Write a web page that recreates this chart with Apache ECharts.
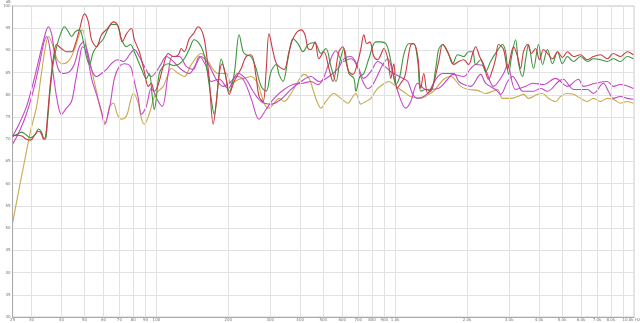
<!DOCTYPE html>
<html>
<head>
<meta charset="utf-8">
<script src="https://cdn.jsdelivr.net/npm/echarts@6/dist/echarts.min.js"></script>
<style>
html,body{margin:0;padding:0;background:#fff;}
#chart{width:640px;height:323px;}
</style>
</head>
<body>
<div id="chart"></div>
<script>
// Frequency grid lines and their labels
const freqTicks = [25,30,40,50,60,70,80,90,100,200,300,400,500,600,700,800,900,1000,2000,3000,4000,5000,6000,7000,8000,9000,10000];
const freqTickLabels = ['25','30','40','50','60','70','80','90','100','200','300','400','500','600','700','800','900','1.0k','2.0k','3.0k','4.0k','5.0k','6.0k','7.0k','8.0k','','10.0k Hz'];

// Series: red
const redHz = [25.0,26.2,27.3,28.6,29.7,30.9,32.1,33.0,33.7,34.3,35.0,35.7,36.4,37.1,38.2,40.0,42.0,44.1,45.8,47.6,50.0,51.9,53.5,56.1,58.9,62.4,66.1,69.3,72.0,74.9,78.6,80.8,84.8,89.0,92.5,95.2,98.0,101.8,106.8,112.1,117.6,123.6,127.1,130.8,137.2,142.7,149.7,157.0,161.6,166.3,172.9,177.9,183.1,188.5,195.9,201.6,211.6,226.4,237.4,249.2,261.5,269.1,279.7,287.9,296.3,308.0,320.0,342.3,359.2,376.9,403.2,419.0,431.3,444.0,461.3,479.4,503.0,527.8,548.5,581.2,604.0,621.6,639.9,665.0,697.7,718.1,739.2,760.8,783.1,813.9,845.9,870.7,896.1,931.2,958.6,986.6,1016,1055,1097,1162,1196,1243,1280,1317,1369,1436,1521,1581,1627,1708,1758,1845,1935,2030,2110,2172,2257,2346,2461,2559,2633,2711,2843,2955,3041,3130,3253,3349,3447,3583,3723,3869,4021,4179,4342,4557,4781,5017,5264,5577,5966,6382,6761,7232,7736,8196,8770,9378,9935];
const redDb = [70.7,70.9,70.7,70.0,69.8,70.9,71.8,71.2,70.0,70.5,75.2,80.8,85.2,88.6,91.3,90.4,89.7,89.7,91.5,94.6,98.2,96.4,92.4,90.8,93.5,94.9,96.4,95.3,91.9,93.7,94.9,92.4,89.7,85.2,81.9,82.6,80.8,82.3,86.4,89.3,88.6,89.0,90.4,89.7,92.6,93.7,95.3,93.5,89.7,83.7,73.4,77.9,84.6,87.0,83.7,80.1,83.0,85.9,88.6,89.0,84.1,79.6,78.5,85.2,93.7,89.7,86.8,85.7,89.7,93.1,94.6,93.5,90.4,90.2,91.9,88.1,89.7,85.9,83.0,89.7,90.8,87.5,85.2,84.6,87.5,90.4,93.5,91.5,91.9,88.6,87.9,89.0,90.4,88.1,83.7,87.0,81.4,82.6,84.1,91.3,91.5,88.6,81.4,84.8,80.3,81.9,87.5,91.3,90.4,88.1,86.8,87.5,87.9,86.8,89.3,90.8,88.6,86.8,83.5,85.7,88.1,91.3,90.2,85.7,88.6,90.8,88.6,85.9,89.7,91.3,89.3,90.4,87.9,90.2,89.3,88.1,89.7,88.4,89.7,88.6,89.0,87.9,88.6,89.0,88.1,89.3,88.6,89.7,89.0];

// Series: green
const greenHz = [25.0,26.2,27.3,28.6,29.7,30.9,32.1,33.0,33.7,34.3,35.0,35.7,36.4,37.1,38.2,39.7,41.2,42.8,44.1,45.8,47.6,49.5,50.9,52.4,54.5,57.2,60.0,62.4,64.8,68.0,71.3,74.9,77.8,80.8,86.5,90.7,93.4,96.1,98.0,102.8,106.8,112.1,117.6,123.6,130.8,137.2,144.0,151.1,157.0,161.6,169.5,174.5,181.3,186.7,194.0,201.6,211.6,222.1,230.7,237.4,249.2,261.5,274.4,287.9,302.1,317.0,326.3,339.0,355.7,373.3,391.7,411.0,431.3,452.5,465.8,488.7,512.7,538.0,564.6,586.7,609.8,639.9,671.4,684.4,711.3,739.2,775.6,829.7,870.7,913.5,940.2,977.2,1006,1045,1086,1140,1196,1243,1280,1343,1409,1478,1521,1581,1659,1741,1827,1935,2030,2110,2172,2279,2391,2509,2659,2816,2898,2983,3071,3191,3285,3414,3515,3618,3795,3983,4139,4342,4557,4781,5017,5264,5577,5966,6382,6761,7232,7736,8196,8770,9378,9935];
const greenDb = [70.7,71.2,71.6,70.9,70.3,70.9,72.3,71.6,70.3,70.0,74.1,79.6,84.1,87.5,90.8,93.7,95.3,94.2,93.1,94.2,94.6,91.9,88.6,86.8,89.7,91.3,92.6,94.6,95.8,95.8,92.6,90.8,91.3,89.7,85.9,83.7,84.8,79.6,76.7,84.8,86.4,87.0,86.6,86.8,88.1,90.2,92.4,91.5,89.7,86.8,79.2,75.6,82.3,88.1,84.8,80.8,84.6,93.5,89.7,89.0,88.6,85.9,81.9,80.8,85.2,86.8,84.6,83.0,88.1,92.6,91.5,89.7,91.3,91.7,91.5,89.3,90.4,86.4,83.0,87.5,90.4,84.8,83.7,80.8,84.1,84.8,88.1,91.9,91.9,91.5,89.7,85.2,82.3,84.1,89.0,91.5,91.5,87.5,80.8,81.2,80.8,85.9,90.2,91.3,89.7,87.0,89.0,88.6,89.7,89.7,86.8,87.9,85.2,87.5,89.7,91.3,89.7,84.6,88.6,92.4,87.0,84.1,87.9,91.3,85.9,91.3,86.8,90.2,87.0,89.7,87.0,88.6,87.5,88.6,87.5,88.1,87.9,87.5,88.1,87.5,88.6,88.1];

// Series: magenta (a)
const magentaHz = [25.0,26.7,28.6,30.6,32.4,33.7,34.7,35.7,37.1,38.5,40.0,42.0,44.1,45.8,47.6,49.0,50.9,53.5,56.1,58.9,60.6,63.6,66.7,70.0,73.4,77.8,80.8,84.0,86.5,90.7,95.2,101.8,105.8,112.1,116.5,124.6,133.3,142.7,151.1,161.6,169.5,183.1,199.7,215.7,230.7,249.2,269.1,287.9,310.9,342.3,373.3,411.0,444.0,474.8,498.2,522.7,564.6,604.0,652.3,684.4,732.1,768.2,806.1,887.5,931.2,977.2,1025,1107,1162,1243,1343,1507,1659,1741,1935,2070,2172,2346,2583,2843,2955,3191,3515,3759,4179,4690,5264,5852,6141,6892,7736,8196,8770,9935];
const magentaDb = [68.9,71.8,75.8,81.2,87.0,91.5,93.1,90.8,84.1,78.5,75.6,77.0,78.5,83.0,87.9,90.8,89.7,83.7,80.1,76.3,73.4,77.0,83.7,86.4,87.0,86.4,83.0,79.2,75.6,77.4,81.4,78.5,77.4,84.8,88.6,88.6,86.4,85.7,88.6,86.4,83.0,83.5,81.4,84.1,83.5,79.2,74.5,76.7,79.2,81.2,82.3,82.6,83.0,82.3,83.5,86.4,89.9,87.5,88.1,87.0,83.0,81.4,82.3,86.8,88.1,84.8,80.8,77.0,78.5,82.6,81.2,81.4,83.5,84.6,84.1,85.9,86.8,86.4,81.9,84.8,86.8,81.2,81.9,82.6,82.3,83.7,81.9,83.5,81.9,82.6,83.0,81.9,82.3,81.4];

// Series: violet (b)
const violetHz = [25.0,26.7,28.6,30.6,32.4,34.0,35.3,36.4,37.4,38.9,40.8,43.3,45.4,47.6,49.5,51.4,53.5,56.1,58.9,61.8,64.8,68.6,72.7,77.8,80.8,84.8,89.0,95.2,99.9,104.8,110.0,117.6,127.1,137.2,146.8,154.0,164.7,177.9,190.3,205.5,219.9,237.4,254.0,274.4,302.1,332.6,366.2,403.2,444.0,479.4,527.8,575.6,609.8,652.3,697.7,739.2,790.6,845.9,904.7,958.6,1076,1129,1184,1243,1369,1436,1507,1581,1758,1845,1935,2070,2279,2391,2633,2763,2955,3100,3253,3414,3795,4060,4342,4828,5065,5315,5577,6382,6761,7444,7811,8196,8770,9378,9935];
const violetDb = [70.7,73.6,77.4,83.0,88.6,93.1,95.3,93.7,89.7,85.7,84.8,85.2,87.0,90.8,91.9,89.7,85.7,84.1,84.8,85.7,87.0,87.9,87.5,89.3,90.2,88.6,86.4,84.1,85.2,87.0,88.6,87.5,85.7,84.8,87.0,88.6,87.0,83.5,81.9,83.0,84.8,83.5,80.8,78.5,77.9,79.0,81.2,83.0,84.1,83.0,84.1,85.9,88.1,88.6,86.4,83.7,85.2,87.5,86.4,85.2,83.7,83.0,80.1,79.2,80.3,82.3,84.1,84.8,84.8,83.0,82.3,81.9,84.6,82.6,81.2,80.1,83.0,84.1,82.6,80.8,80.8,81.4,80.8,83.0,83.5,82.3,81.2,81.2,80.3,82.6,80.8,79.2,79.6,79.2,79.0];

// Series: yellow
const yellowHz = [25.0,26.5,28.05,29.7,31.5,33.0,34.3,35.3,36.7,38.5,40.8,43.3,45.8,47.6,49.0,50.9,53.5,56.1,58.9,61.2,63.6,66.1,68.6,71.3,74.9,77.8,80.1,84.0,86.5,89.0,93.4,98.0,101.8,106.8,111.0,115.4,123.6,130.8,139.9,154.0,164.7,172.9,181.3,195.9,205.5,222.1,232.9,249.2,266.5,282.4,296.3,310.9,326.3,342.3,366.2,391.7,415.0,435.5,452.5,470.3,488.7,512.7,553.8,592.5,633.7,665.0,684.4,718.1,753.5,790.6,837.8,887.5,940.2,1006,1076,1162,1280,1382,1450,1596,1708,1880,2030,2214,2391,2559,2684,2816,3041,3253,3447,3618,3944,4139,4384,4690,4921,5214,5577,5966,6382,6761,7232,7736,8196,8770,9378,9935];
const yellowDb = [51.2,58.4,65.1,71.8,77.4,84.8,90.8,93.1,91.3,87.9,87.0,87.9,90.8,93.7,94.6,90.8,85.7,80.8,75.8,73.6,77.4,78.1,75.6,74.5,75.2,78.5,80.3,78.1,74.7,73.4,75.8,79.6,80.8,81.9,84.1,85.9,84.8,84.1,86.8,89.3,87.5,85.7,84.8,84.8,82.6,83.5,83.7,84.1,82.3,78.1,77.0,78.1,79.2,78.5,80.3,83.0,84.6,83.7,81.2,78.5,77.0,78.5,80.3,79.2,78.1,79.6,80.3,77.9,78.5,79.2,81.2,82.3,83.0,81.9,80.8,79.6,79.2,80.1,80.8,83.5,84.1,81.9,81.2,81.0,80.3,80.8,81.2,79.2,79.2,79.6,80.1,79.2,80.1,80.3,79.2,78.5,79.6,80.3,80.1,79.2,78.5,79.2,78.5,79.2,79.0,78.1,78.5,78.1];

function zip(xs, ys) { return xs.map((x, i) => [x, ys[i]]); }

const chart = echarts.init(document.getElementById('chart'), null, {renderer: 'canvas'});

const gridLineData = freqTicks.map((f, i) => {
  const item = { xAxis: f, name: freqTickLabels[i] };
  if (i === freqTicks.length - 1) {
    item.label = { align: 'right', offset: [6, 0] };
  }
  if (i === 0) {
    item.lineStyle = { color: '#aaaaaa' };
  }
  return item;
});

function lineSeries(name, hz, db, color, z) {
  return {
    name: name,
    type: 'line',
    data: zip(hz, db),
    showSymbol: false,
    symbol: 'none',
    smooth: 0.35,
    lineStyle: { color: color, width: 1.1 },
    itemStyle: { color: color },
    z: z,
    silent: true
  };
}

chart.setOption({
  animation: false,
  backgroundColor: '#ffffff',
  grid: {
    left: 11, right: 6, top: 4, bottom: 6,
    show: true, borderColor: '#cfcfcf', borderWidth: 1
  },
  xAxis: {
    type: 'log',
    logBase: 10,
    min: 25,
    max: 10000,
    axisLine: { show: true, lineStyle: { color: '#aaaaaa' } },
    axisTick: { show: false },
    axisLabel: { show: false },
    splitLine: { show: false }
  },
  yAxis: {
    type: 'value',
    min: 30,
    max: 100,
    interval: 5,
    name: 'dB',
    nameLocation: 'end',
    nameGap: 0,
    nameTextStyle: { fontSize: 4, color: '#777', align: 'right', padding: [0, 2, 0, 0], verticalAlign: 'bottom' },
    axisLine: { show: true, lineStyle: { color: '#aaaaaa' } },
    axisTick: { show: false },
    axisLabel: { fontSize: 4, color: '#777', margin: 2, fontFamily: 'DejaVu Sans' },
    splitLine: { show: true, lineStyle: { color: '#e2e2e2', width: 1 } }
  },
  series: [
    {
      name: 'grid',
      type: 'line',
      data: [],
      z: 1,
      silent: true,
      markLine: {
        silent: true,
        symbol: 'none',
        animation: false,
        lineStyle: { color: '#e2e2e2', width: 1, type: 'solid' },
        label: {
          show: true,
          position: 'start',
          distance: 1,
          formatter: '{b}',
          fontSize: 4,
          color: '#777',
          fontFamily: 'DejaVu Sans'
        },
        emphasis: { disabled: true },
        data: gridLineData
      }
    },
    lineSeries('Yellow', yellowHz, yellowDb, '#c9a94c', 2),
    lineSeries('Violet', violetHz, violetDb, '#b84cc4', 3),
    lineSeries('Magenta', magentaHz, magentaDb, '#cc44c8', 4),
    lineSeries('Green', greenHz, greenDb, '#3c963c', 5),
    lineSeries('Red', redHz, redDb, '#c83a44', 6)
  ]
});
</script>
</body>
</html>
